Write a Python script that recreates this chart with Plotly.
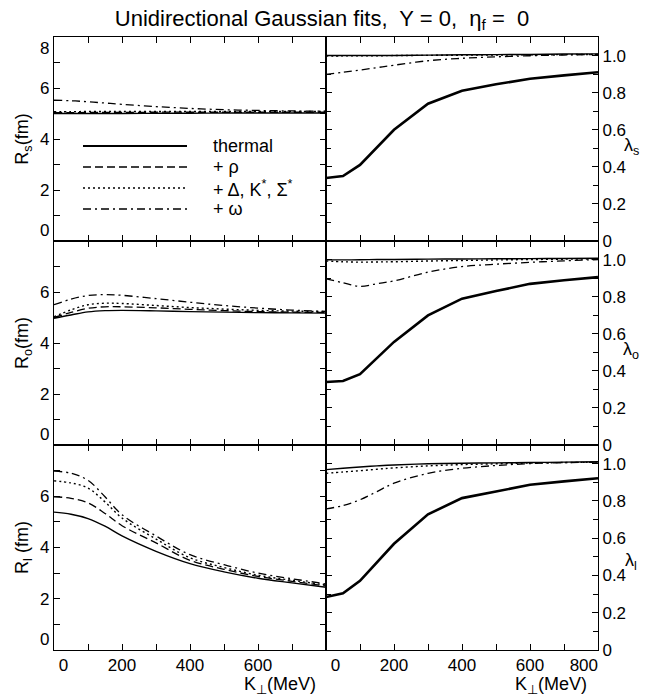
import plotly.graph_objects as go

# ---------------- data ----------------
K = [0, 50, 100, 150, 200, 300, 400, 500, 600, 700, 800]

Rs_thermal = [5.00, 5.00, 5.00, 5.00, 5.00, 5.01, 5.01, 5.02, 5.02, 5.02, 5.02]
Rs_rho     = [5.03, 5.03, 5.04, 5.04, 5.04, 5.05, 5.05, 5.05, 5.05, 5.05, 5.05]
Rs_delta   = [5.07, 5.07, 5.08, 5.08, 5.08, 5.08, 5.08, 5.08, 5.08, 5.08, 5.08]
Rs_omega   = [5.52, 5.50, 5.46, 5.41, 5.36, 5.27, 5.20, 5.15, 5.12, 5.10, 5.09]

Ro_thermal = [4.97, 5.10, 5.22, 5.27, 5.28, 5.26, 5.23, 5.21, 5.19, 5.18, 5.17]
Ro_rho     = [5.00, 5.20, 5.36, 5.42, 5.42, 5.38, 5.32, 5.27, 5.23, 5.21, 5.20]
Ro_delta   = [5.03, 5.30, 5.50, 5.56, 5.55, 5.47, 5.39, 5.33, 5.28, 5.25, 5.23]
Ro_omega   = [5.50, 5.72, 5.86, 5.90, 5.87, 5.74, 5.60, 5.47, 5.37, 5.29, 5.24]

Rl_thermal = [5.38, 5.30, 5.13, 4.83, 4.45, 3.85, 3.37, 3.05, 2.80, 2.62, 2.45]
Rl_rho     = [5.98, 5.92, 5.74, 5.33, 4.85, 4.18, 3.50, 3.15, 2.87, 2.68, 2.50]
Rl_delta   = [6.60, 6.52, 6.32, 5.78, 5.15, 4.33, 3.60, 3.22, 2.92, 2.72, 2.54]
Rl_omega   = [6.98, 6.90, 6.62, 5.98, 5.28, 4.45, 3.72, 3.33, 3.00, 2.78, 2.58]

lam_s_thin  = [1.000, 1.000, 1.000, 1.000, 1.000, 1.002, 1.004, 1.005, 1.006, 1.008, 1.009]
lam_s_dot   = [0.998, 0.998, 0.999, 0.999, 1.000, 1.001, 1.002, 1.003, 1.004, 1.005, 1.006]
lam_s_dd    = [0.898, 0.910, 0.922, 0.935, 0.948, 0.972, 0.985, 0.993, 0.999, 1.003, 1.006]
lam_s_thick = [0.340, 0.350, 0.410, 0.505, 0.600, 0.740, 0.810, 0.845, 0.875, 0.893, 0.910]

lam_o_thin  = [0.998, 0.998, 0.999, 1.000, 1.000, 1.002, 1.003, 1.004, 1.005, 1.006, 1.007]
lam_o_dot   = [0.992, 0.988, 0.986, 0.987, 0.988, 0.992, 0.995, 0.998, 1.000, 1.002, 1.004]
lam_o_dd    = [0.896, 0.875, 0.855, 0.870, 0.885, 0.932, 0.962, 0.975, 0.985, 0.993, 1.000]
lam_o_thick = [0.340, 0.345, 0.382, 0.470, 0.556, 0.699, 0.789, 0.830, 0.869, 0.888, 0.905]

lam_l_thin  = [0.968, 0.975, 0.982, 0.988, 0.993, 0.999, 1.002, 1.004, 1.006, 1.008, 1.010]
lam_l_dot   = [0.948, 0.955, 0.962, 0.970, 0.977, 0.988, 0.995, 0.999, 1.003, 1.006, 1.008]
lam_l_dd    = [0.757, 0.775, 0.806, 0.850, 0.895, 0.948, 0.975, 0.990, 1.000, 1.005, 1.008]
lam_l_thick = [0.284, 0.304, 0.371, 0.470, 0.570, 0.728, 0.815, 0.850, 0.887, 0.905, 0.922]

legend_labels = ["thermal", "+ ρ", "+ Δ, K<sup>*</sup>, Σ<sup>*</sup>", "+ ω"]
R_titles = ["R<sub>s</sub>(fm)", "R<sub>o</sub>(fm)", "R<sub>l</sub> (fm)"]
lam_titles = ["λ<sub>s</sub>", "λ<sub>o</sub>", "λ<sub>l</sub>"]
FS = "\u2007"  # figure space, used to nudge end labels inward like the original
NB = "\u00a0"
x_ticks_left = [0, 200, 400, 600]
x_text_left = [FS + FS + "0", "200", "400", "600"]
x_ticks_right = [0, 200, 400, 600, 800]
x_text_right = [FS + FS + "0", "200", "400", "600", "800" + FS + FS + FS]
R_ticks_top = [0, 2, 4, 6, 8]
R_text_top = ["0<br>" + NB, "2", "4", "6", NB + "<br>8"]
R_ticks = [0, 2, 4, 6]
R_text = ["0<br>" + NB, "2", "4", "6"]
lam_ticks = [0, 0.2, 0.4, 0.6, 0.8, 1.0]
lam_ticktext = ["0", "0.2", "0.4", "0.6", "0.8", "1.0"]

# ---------------- styles ----------------
W, H = 668, 696
FONT = "Liberation Sans, Arial, sans-serif"
DASH = "8px,4px"
DOT = "2px,3px"
DASHDOT = "8px,4px,2px,4px"
styles = [dict(dash="solid", width=1.4), dict(dash=DASH, width=1.3),
          dict(dash=DOT, width=1.4), dict(dash=DASHDOT, width=1.3)]

R_sets = [[Rs_thermal, Rs_rho, Rs_delta, Rs_omega],
          [Ro_thermal, Ro_rho, Ro_delta, Ro_omega],
          [Rl_thermal, Rl_rho, Rl_delta, Rl_omega]]
lam_sets = [[lam_s_thin, lam_s_dot, lam_s_dd, lam_s_thick],
            [lam_o_thin, lam_o_dot, lam_o_dd, lam_o_thick],
            [lam_l_thin, lam_l_dot, lam_l_dd, lam_l_thick]]
lam_styles = [dict(dash="solid", width=1.4), dict(dash=DOT, width=1.4),
              dict(dash=DASHDOT, width=1.3), dict(dash="solid", width=2.6)]

fig = go.Figure()

row_dom = [[1 - 241 / H, 1 - 37 / H], [1 - 445 / H, 1 - 241 / H], [1 - 650 / H, 1 - 445 / H]]
xl_dom = [54 / W, 326 / W]
xr_dom = [326 / W, 598 / W]


def ax_name(kind, n):
    return kind + ("" if n == 1 else str(n))


def ref(kind, n):
    return kind + ("" if n == 1 else str(n))


TICKFONT = dict(family=FONT, size=17, color="black")
common = dict(showline=True, linecolor="black", linewidth=1.1, mirror="ticks",
              ticks="inside", ticklen=6, tickwidth=1.3, tickcolor="black",
              showgrid=False, zeroline=False, tickfont=TICKFONT, automargin=False)

layout = {}
for r in range(3):
    nl, nr = 2 * r + 1, 2 * r + 2
    bottom = (r == 2)
    for vals, st, name in zip(R_sets[r], styles, legend_labels):
        fig.add_trace(go.Scatter(x=K, y=vals, mode="lines", name=name, showlegend=False,
                                 line=dict(color="black", shape="spline", smoothing=1.0, **st),
                                 xaxis=ref("x", nl), yaxis=ref("y", nl)))
    for i, (vals, st) in enumerate(zip(lam_sets[r], lam_styles)):
        fig.add_trace(go.Scatter(x=K, y=vals, mode="lines", showlegend=False,
                                 line=dict(color="black", shape="linear" if i == 3 else "spline",
                                           **st),
                                 xaxis=ref("x", nr), yaxis=ref("y", nr)))
    xminor = dict(ticks="inside", ticklen=6, tickwidth=1.3, tickcolor="black", dtick=100, tick0=0)
    layout[ax_name("xaxis", nl)] = dict(domain=xl_dom, anchor=ref("y", nl), range=[0, 800],
                                        tickmode="array", tickvals=x_ticks_left,
                                        ticktext=x_text_left,
                                        showticklabels=bottom, minor=xminor, **common)
    layout[ax_name("xaxis", nr)] = dict(domain=xr_dom, anchor=ref("y", nr), range=[0, 800],
                                        tickmode="array", tickvals=x_ticks_right,
                                        ticktext=x_text_right,
                                        showticklabels=bottom, minor=xminor, **common)
    layout[ax_name("yaxis", nl)] = dict(
        domain=row_dom[r], anchor=ref("x", nl), range=[0, 8],
        tickmode="array", tickvals=R_ticks_top if r == 0 else R_ticks,
        ticktext=R_text_top if r == 0 else R_text,
        minor=dict(ticks="inside", ticklen=6, tickwidth=1.3, tickcolor="black", dtick=1, tick0=0),
        title=dict(text=R_titles[r], standoff=6, font=dict(family=FONT, size=18, color="black")),
        **common)
    layout[ax_name("yaxis", nr)] = dict(
        domain=row_dom[r], anchor=ref("x", nr), range=[0, 1.1], side="right",
        tickmode="array", tickvals=lam_ticks, ticktext=lam_ticktext,
        minor=dict(ticks="inside", ticklen=5, tickwidth=1.2, tickcolor="black", dtick=0.1, tick0=0),
        **common)

fig.update_layout(**layout)

annotations = []
lam_pos = [(631, 146), (631, 350), (631, 561)]
for (xp, yp), t in zip(lam_pos, lam_titles):
    annotations.append(dict(x=xp / W, y=1 - yp / H, xref="paper", yref="paper", text=t,
                            showarrow=False, xanchor="center", yanchor="middle",
                            font=dict(family=FONT, size=18, color="black")))
for xr in (318, 589):
    annotations.append(dict(x=xr / W, y=1 - 672 / H, xref="paper", yref="paper",
                            text="K<sub>⊥</sub>(MeV)", showarrow=False, xanchor="right",
                            yanchor="top", font=dict(family=FONT, size=18, color="black")))

# legend drawn inside the top-left panel
shapes = []
leg_y = [146, 167, 188, 209]
for yy, st, lab in zip(leg_y, styles, legend_labels):
    shapes.append(dict(type="line", xref="paper", yref="paper", x0=83 / W, x1=187 / W,
                       y0=1 - yy / H, y1=1 - yy / H,
                       line=dict(color="black", dash=st["dash"],
                                 width=2.0 if st["dash"] == "solid" else 1.5)))
    annotations.append(dict(x=211 / W, y=1 - yy / H, xref="paper", yref="paper", text=lab,
                            showarrow=False, xanchor="left", yanchor="middle",
                            font=dict(family=FONT, size=18, color="black")))

title_text = ("Unidirectional Gaussian fits," + NB + " Y = 0," + NB + " η<sub>f</sub> =" + NB + " 0")

fig.update_layout(
    width=W, height=H, margin=dict(l=0, r=0, t=0, b=0, autoexpand=False),
    paper_bgcolor="white", plot_bgcolor="white",
    title=dict(text=title_text, x=322 / W, xanchor="center", y=1 - 18 / H, yanchor="middle",
               font=dict(family=FONT, size=22, color="black"), automargin=False),
    annotations=annotations, shapes=shapes, showlegend=False,
)

fig.write_html("out.html")
